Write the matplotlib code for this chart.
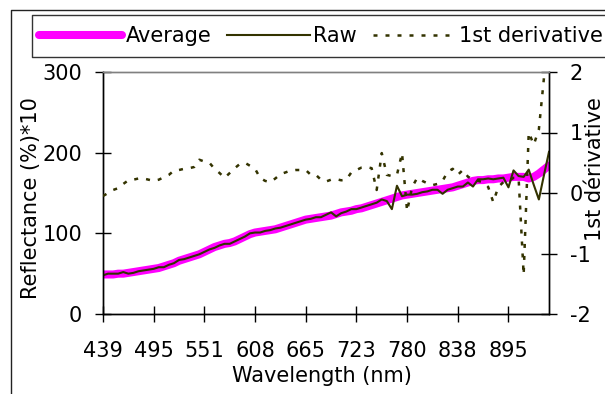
import numpy as np
import matplotlib
matplotlib.use("Agg")
import matplotlib.pyplot as plt
from matplotlib.lines import Line2D

plt.rcParams['font.family'] = ['DejaVu Sans']
plt.rcParams['axes.unicode_minus'] = False

# ---------------- data ----------------
wavelength_labels = ['439', '495', '551', '608', '665', '723', '780', '838', '895']

average = [49, 49, 49, 50, 50, 51, 52, 53, 54, 55,
           56, 57, 59, 61, 63, 66, 68, 70, 72, 74,
           77, 80, 83, 85, 87, 88, 90, 93, 96, 99,
           101, 102, 103, 104, 105, 107, 109, 111, 113, 115,
           117, 118, 119, 120, 121, 122, 124, 126, 127, 128,
           130, 131, 133, 135, 137, 139, 141, 143, 145, 147,
           148, 149, 150, 151, 152, 153, 154, 155, 156, 157,
           159, 161, 163, 165, 166, 166, 167, 167, 168, 168,
           169, 170, 170, 170, 168, 170, 174, 179, 184]

raw = [48, 50, 50, 50, 52, 50, 51, 53, 54, 55,
       56, 58, 58, 61, 63, 67, 68, 70, 72, 74,
       77, 80, 82, 85, 87, 87, 90, 93, 96, 100,
       101, 101, 103, 104, 106, 107, 109, 111, 113, 115,
       117, 118, 120, 120, 123, 126, 121, 125, 127, 130,
       130, 132, 134, 136, 138, 142, 140, 130, 159, 146,
       148, 148, 149, 151, 152, 154, 154, 149, 154, 156,
       158, 158, 163, 158, 167, 167, 168, 167, 168, 169,
       157, 178, 171, 170, 179, 160, 142, 172, 201]

derivative = [-0.05, 0.0, 0.05, 0.08, 0.15, 0.21, 0.22, 0.24, 0.24, 0.22,
              0.20, 0.22, 0.26, 0.30, 0.37, 0.38, 0.40, 0.41, 0.43, 0.55,
              0.52, 0.50, 0.40, 0.33, 0.25, 0.33, 0.41, 0.48, 0.50, 0.45,
              0.40, 0.25, 0.20, 0.18, 0.24, 0.31, 0.34, 0.37, 0.38, 0.38,
              0.38, 0.30, 0.30, 0.22, 0.19, 0.22, 0.23, 0.21, 0.22, 0.34,
              0.38, 0.42, 0.43, 0.41, 0.05, 0.66, 0.30, 0.28, 0.30, 0.66,
              -0.30, 0.10, 0.25, 0.20, 0.16, 0.13, 0.15, 0.20, 0.35, 0.40,
              0.30, 0.38, 0.27, 0.22, 0.20, 0.18, 0.10, -0.15, 0.10, 0.18,
              0.20, 0.25, 0.25, -1.35, 1.00, 0.80, 1.05, 1.90, np.nan]

label_step = 10  # one wavelength label every 10 categories

# ---------------- figure ----------------
W, H = 605, 394
fig = plt.figure(figsize=(W / 100, H / 100), dpi=100)

def fx(px):
    return px / W

def fy(py):
    return 1 - py / H

olive = '#333300'
magenta = '#FF00FF'
FS = 15
dots = (0, (1.6, 3.2))

ax = fig.add_axes([fx(103), fy(314), fx(549) - fx(103), fy(72) - fy(314)])
x = np.arange(len(average))
ax.plot(x, average, color=magenta, lw=5.8, solid_capstyle='round', zorder=2)
ax.plot(x, raw, color=olive, lw=1.5, zorder=3)
ax.set_xlim(0, len(average) - 1)
ax.set_ylim(0, 300)
ax.set_yticks([0, 100, 200, 300])
ax.set_xticks(np.arange(len(wavelength_labels)) * label_step)
ax.set_xticklabels(wavelength_labels)

ax2 = ax.twinx()
ax2.plot(x, derivative, color=olive, lw=1.8, linestyle=dots, zorder=4)
ax2.set_ylim(-2, 2)
ax2.set_yticks([-2, -1, 0, 1, 2])

for a in (ax, ax2):
    a.patch.set_visible(False)
    for s in a.spines.values():
        s.set_color('black')
        s.set_linewidth(1.0)
    a.spines['top'].set_color('#808080')

ax.tick_params(axis='both', direction='inout', length=11, width=1, labelsize=FS, color='black')
ax.tick_params(axis='y', pad=9.5)
ax.tick_params(axis='x', pad=14)
ax2.tick_params(axis='y', direction='inout', length=11, width=1, labelsize=FS, pad=9.5)

# axis titles
fig.text(fx(31), fy(198), 'Reflectance (%)*10', rotation=90, ha='center', va='center', fontsize=FS)
fig.text(fx(595), fy(169), '1st dérivative', rotation=90, ha='center', va='center', fontsize=FS)
fig.text(fx(322), fy(376), 'Wavelength (nm)', ha='center', va='center', fontsize=FS)

# chart area border (only top and left edges fall inside the image)
fig.add_artist(Line2D([fx(11), fx(11), 1.0], [0.0, fy(10), fy(10)], transform=fig.transFigure,
                      color='#222222', lw=1.0))
# legend box (its right edge lies outside the image)
fig.add_artist(Line2D([1.0, fx(32), fx(32), 1.0], [fy(15), fy(15), fy(57), fy(57)],
                      transform=fig.transFigure, color='#333333', lw=1.0))

handles = [Line2D([], [], color=magenta, lw=5.8, solid_capstyle='round'),
           Line2D([], [], color=olive, lw=1.5),
           Line2D([], [], color=olive, lw=1.8, linestyle=dots)]
fig.legend(handles, ['Average', 'Raw', '1st derivative'], loc='center left',
           bbox_to_anchor=(fx(39), fy(36)), ncol=3, frameon=False, fontsize=FS,
           handlelength=4.0, handletextpad=0.15, columnspacing=0.75,
           borderpad=0, borderaxespad=0)

fig.savefig('out.png', dpi=100)
